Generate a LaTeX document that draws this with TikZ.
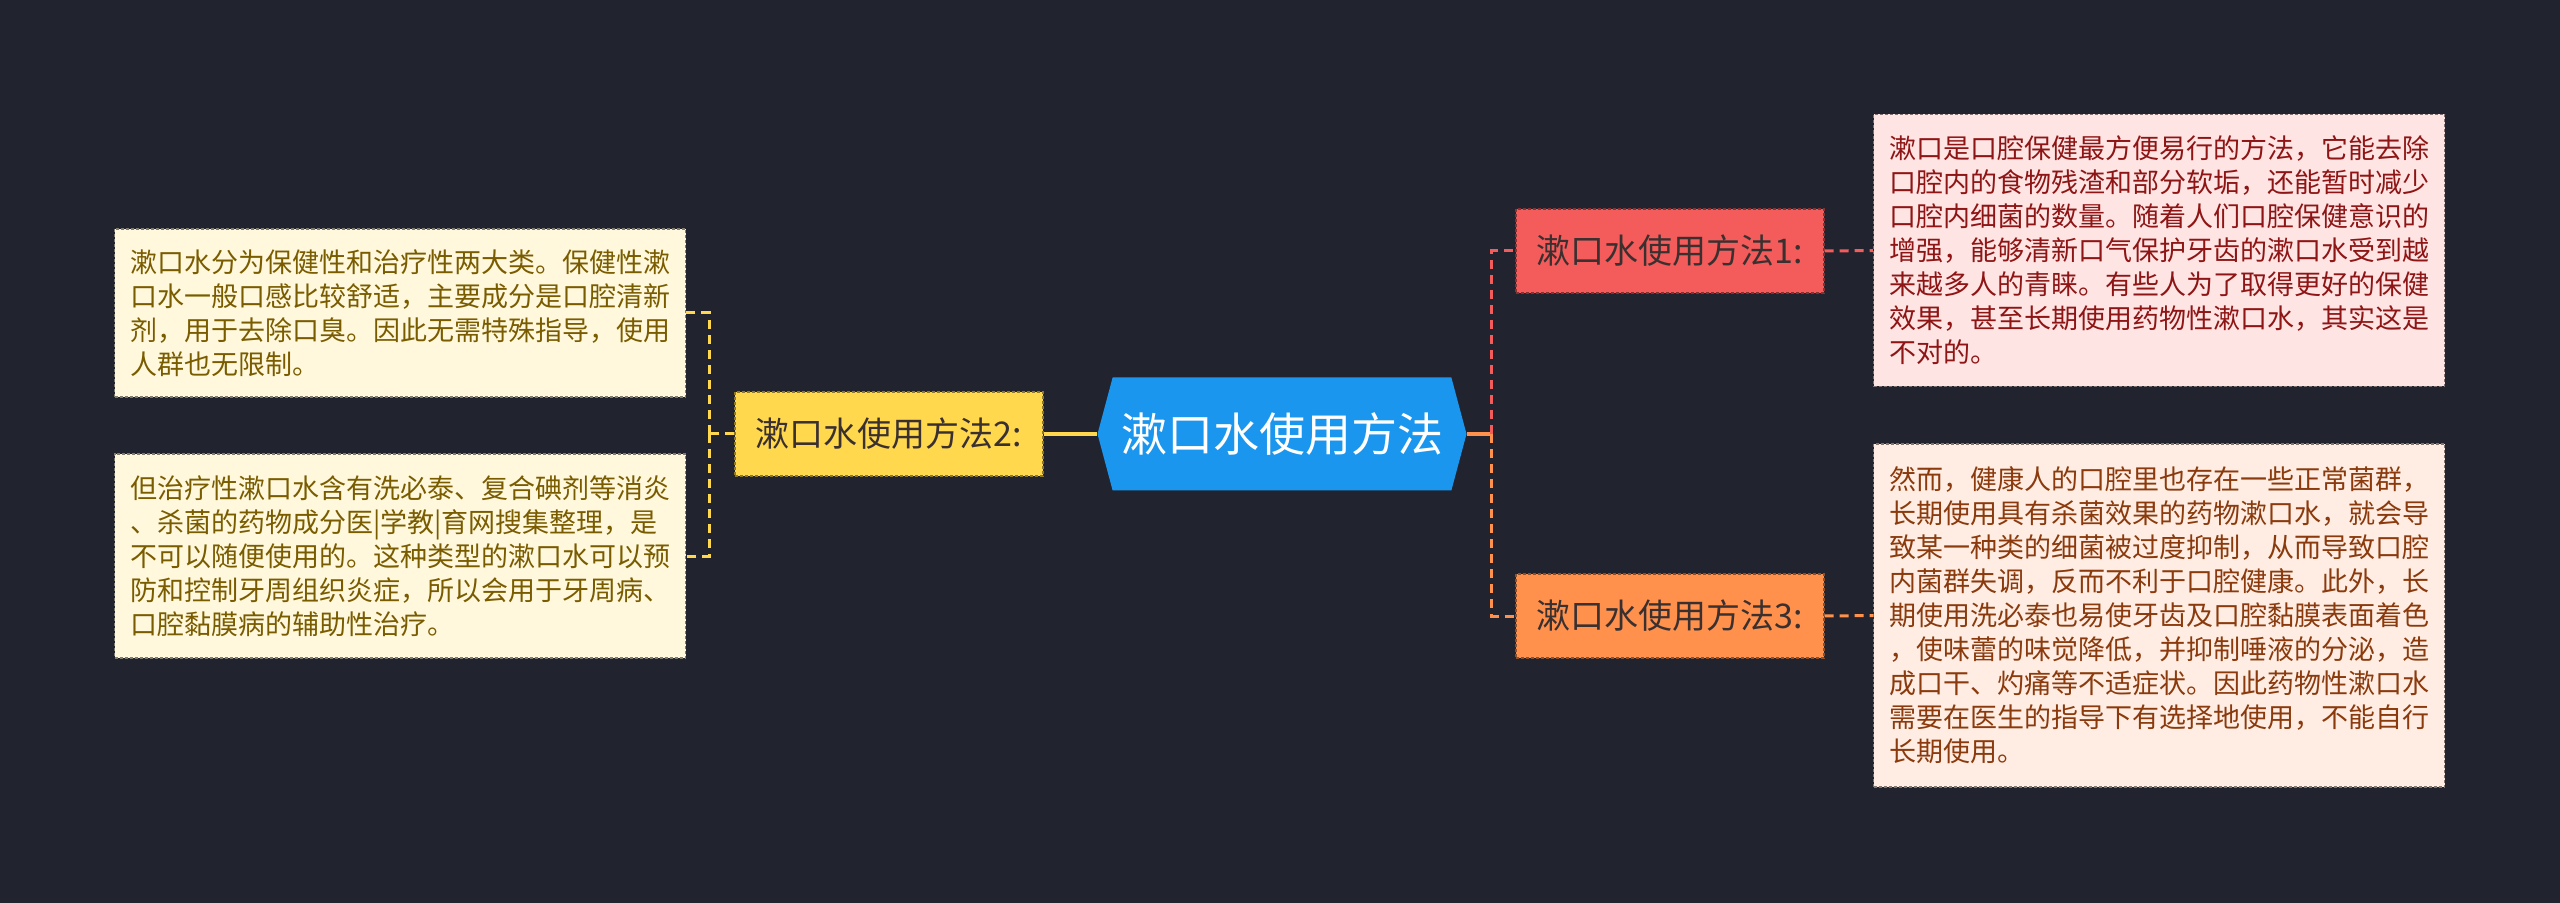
\documentclass[tikz,border=0pt]{standalone}
\usepackage{fontspec}
\setmainfont{Noto Sans CJK SC}
\usetikzlibrary{shapes.symbols,positioning}
\definecolor{bgdark}{HTML}{21242F}
\definecolor{rootblue}{HTML}{1B96EF}
\definecolor{redfill}{HTML}{F45B5B}
\definecolor{orangefill}{HTML}{FF914D}
\definecolor{yellowfill}{HTML}{FFD84D}
\definecolor{pinkbox}{HTML}{FFE4E4}
\definecolor{peachbox}{HTML}{FFEDE3}
\definecolor{creambox}{HTML}{FFF8DC}
\definecolor{redtext}{HTML}{8E1515}
\definecolor{browntext}{HTML}{8A3A0C}
\definecolor{olivetext}{HTML}{7A5C00}
\definecolor{labeltext}{HTML}{3A3030}
\tikzset{
  rootnode/.style = {signal, signal to=west and east, signal pointer angle=150, fill=rootblue, text=white, minimum width=184.5pt, minimum height=56.5pt, inner sep=0pt, font=\fontsize{23pt}{28pt}\selectfont},
  methodnode/.style = {rectangle, fill=#1, draw=#1!55!black, dash pattern=on 1.5pt off 1pt, line width=0.6pt, minimum width=154pt, minimum height=42pt, inner sep=0pt, text=labeltext, font=\fontsize{17pt}{20pt}\selectfont},
  notebox/.style n args = {2}{rectangle, fill=#1, draw=#1!50!black, dash pattern=on 1.5pt off 1pt, line width=0.6pt, text=#2, minimum width=285.5pt, align=left, inner sep=0pt, font=\fontsize{13.5pt}{17pt}\selectfont},
  link/.style = {line width=1.5pt, dash pattern=on 4.5pt off 3pt},
  stem/.style = {line width=2pt}
}

\begin{document}
\begin{tikzpicture}[x=0.5pt, y=-0.5pt]
\useasboundingbox (0,0) rectangle (2560,903);
\fill[bgdark] (0,0) rectangle (2560,903);

\node[rootnode] (root) at (1282,434) {漱口水使用方法};
\node[methodnode=redfill] (m1) at (1670,251) {漱口水使用方法1:};
\node[methodnode=yellowfill] (m2) at (889,434) {漱口水使用方法2:};
\node[methodnode=orangefill] (m3) at (1670,616) {漱口水使用方法3:};

\node[notebox={pinkbox}{redtext}, minimum height=136pt] (d1) at (2159,250.5) {漱口是口腔保健最方便易行的方法，它能去除\\口腔内的食物残渣和部分软垢，还能暂时减少\\口腔内细菌的数量。随着人们口腔保健意识的\\增强，能够清新口气保护牙齿的漱口水受到越\\来越多人的青睐。有些人为了取得更好的保健\\效果，甚至长期使用药物性漱口水，其实这是\\不对的。};
\node[notebox={peachbox}{browntext}, minimum height=171.5pt] (d3) at (2159,615.5) {然而，健康人的口腔里也存在一些正常菌群，\\长期使用具有杀菌效果的药物漱口水，就会导\\致某一种类的细菌被过度抑制，从而导致口腔\\内菌群失调，反而不利于口腔健康。此外，长\\期使用洗必泰也易使牙齿及口腔黏膜表面着色\\，使味蕾的味觉降低，并抑制唾液的分泌，造\\成口干、灼痛等不适症状。因此药物性漱口水\\需要在医生的指导下有选择地使用，不能自行\\长期使用。};
\node[notebox={creambox}{olivetext}, minimum height=84pt] (d2a) at (400,313) {漱口水分为保健性和治疗性两大类。保健性漱\\口水一般口感比较舒适，主要成分是口腔清新\\剂，用于去除口臭。因此无需特殊指导，使用\\人群也无限制。};
\node[notebox={creambox}{olivetext}, minimum height=102pt] (d2b) at (400,556) {但治疗性漱口水含有洗必泰、复合碘剂等消炎\\、杀菌的药物成分医|学教|育网搜集整理，是\\不可以随便使用的。这种类型的漱口水可以预\\防和控制牙周组织炎症，所以会用于牙周病、\\口腔黏膜病的辅助性治疗。};

% left branch
\draw[yellowfill, stem] (root.west) -- (m2.east);
\draw[yellowfill, link] (m2.west) -- ++(-25,0) coordinate (ltrunk);
\draw[yellowfill, link] (ltrunk) |- (d2a.east);
\draw[yellowfill, link] (ltrunk) |- (d2b.east);

% right branch
\draw[orangefill, stem] (root.east) -- ++(25,0) coordinate (rtrunk);
\draw[redfill, link] (rtrunk) |- (m1.west);
\draw[orangefill, link] (rtrunk) |- (m3.west);
\draw[redfill, link] (m1.east) -- (d1.west);
\draw[orangefill, link] (m3.east) -- (d3.west);
\end{tikzpicture}
\end{document}
